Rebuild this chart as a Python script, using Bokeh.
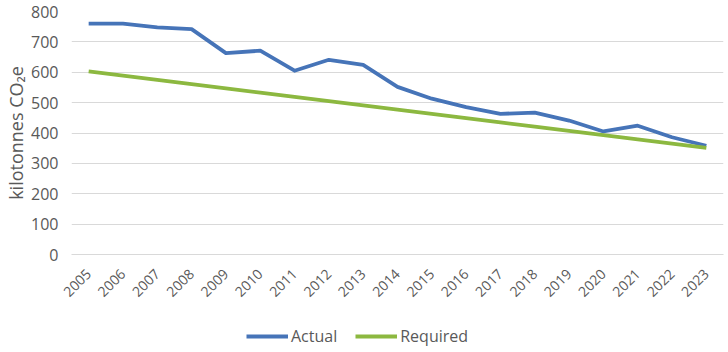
import math
from bokeh.plotting import figure
from bokeh.layouts import column
from bokeh.models import Range1d, Legend, LegendItem, FactorRange
from bokeh.embed import file_html
from bokeh.resources import INLINE

years = [str(y) for y in range(2005, 2024)]
actual = [760, 760, 748, 742, 663, 671, 605, 641, 624, 552, 513, 485, 463, 467, 441, 405, 424, 386, 358]
required = [603, 589, 575, 561, 547, 533, 519, 505, 491, 477, 463, 449, 435, 421, 407, 393, 379, 365, 351]
y_ticks = [0, 100, 200, 300, 400, 500, 600, 700, 800]

FONT = "Open Sans"
TXT = "#595959"
C_ACT = "#4674B8"
C_REQ = "#8CB840"

p = figure(width=728, height=322, x_range=FactorRange(*years, range_padding=0),
           y_range=Range1d(0, 800), output_backend="svg", toolbar_location=None,
           min_border_left=71, min_border_right=5, min_border_top=11, min_border_bottom=68)
p.frame_height = 243
p.outline_line_color = None
p.background_fill_color = "white"
p.border_fill_color = "white"

p.line(years, actual, line_color=C_ACT, line_width=3.8, line_join="round")
p.line(years, required, line_color=C_REQ, line_width=3.8, line_join="round")

p.xgrid.grid_line_color = None
p.ygrid.grid_line_color = "#D9D9D9"
p.ygrid.grid_line_width = 1
p.yaxis.ticker = y_ticks
p.yaxis.axis_line_color = None
p.yaxis.major_tick_line_color = None
p.yaxis.minor_tick_line_color = None
p.yaxis.major_tick_out = 0
p.yaxis.major_tick_in = 0
p.yaxis.major_label_text_font = FONT
p.yaxis.major_label_text_font_size = "16px"
p.yaxis.major_label_text_color = TXT
p.yaxis.major_label_standoff = 13
p.yaxis.axis_label = "kilotonnes CO\u2082e"
p.yaxis.axis_label_text_font = FONT
p.yaxis.axis_label_text_font_size = "18px"
p.yaxis.axis_label_text_font_style = "normal"
p.yaxis.axis_label_text_color = TXT
p.yaxis.axis_label_standoff = 0

p.xaxis.axis_line_color = "#D9D9D9"
p.xaxis.major_tick_line_color = None
p.xaxis.minor_tick_line_color = None
p.xaxis.major_tick_out = 0
p.xaxis.major_tick_in = 0
p.xaxis.major_label_orientation = math.pi / 4
p.xaxis.major_label_text_font = FONT
p.xaxis.major_label_text_font_size = "14px"
p.xaxis.major_label_text_color = TXT
p.xaxis.major_label_standoff = 17

# legend strip below the chart
q = figure(width=728, height=30, x_axis_type=None, y_axis_type=None,
           x_range=FactorRange(*years), y_range=Range1d(0, 800),
           output_backend="svg", toolbar_location=None,
           min_border_left=0, min_border_right=0, min_border_top=0, min_border_bottom=0)
q.outline_line_color = None
q.xgrid.grid_line_color = None
q.ygrid.grid_line_color = None
la = q.line(years, actual, line_color=C_ACT, line_width=3.8, visible=False)
lr = q.line(years, required, line_color=C_REQ, line_width=3.8, visible=False)
legend = Legend(items=[LegendItem(label="Actual", renderers=[la]),
                       LegendItem(label="Required", renderers=[lr])],
                orientation="horizontal", location=(175, 5),
                label_text_font=FONT, label_text_font_size="16px", label_text_color=TXT,
                glyph_width=42, glyph_height=16, spacing=18, label_standoff=3,
                inactive_fill_alpha=0,
                background_fill_alpha=0, border_line_color=None, padding=0, margin=0)
q.add_layout(legend, "center")

layout = column(p, q, spacing=0)
open("out.html", "w").write(file_html(layout, INLINE))
